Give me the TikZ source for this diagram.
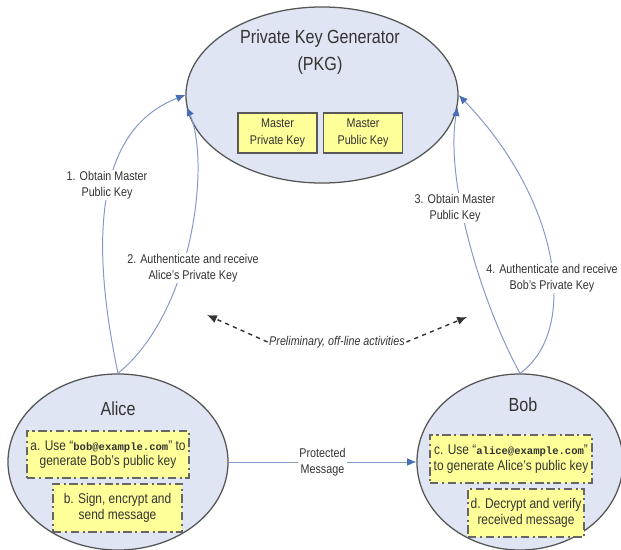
\documentclass[tikz,border=0pt]{standalone}
\usepackage{fontspec}
\setmainfont{Liberation Sans}[FakeStretch=0.85]
\setmonofont{Liberation Mono}
\usepackage{tikz}
\usetikzlibrary{shapes,arrows.meta,positioning}
\definecolor{partyfill}{HTML}{DFE5F2}
\definecolor{partyline}{HTML}{555555}
\definecolor{keyfill}{HTML}{FFFF99}
\definecolor{flowcolor}{HTML}{8199C8}
\definecolor{tipcolor}{HTML}{4A6EB5}
\definecolor{textgray}{HTML}{333333}
\newcommand{\mailid}[1]{{\fontsize{7.5}{11}\selectfont\ttfamily\bfseries #1}}

\begin{document}
\begin{tikzpicture}[x=0.025cm, y=-0.025cm,
    party/.style={ellipse, draw=partyline, line width=0.9pt, fill=partyfill, inner sep=0pt},
    title/.style={text=textgray, align=center, font=\fontsize{13.5}{19}\selectfont},
    masterkey/.style={rectangle, draw=black!65, line width=0.9pt, fill=keyfill, minimum width=1.975cm, minimum height=1cm, inner sep=0pt, align=center, text=textgray, font=\fontsize{9}{12.5}\selectfont},
    stepbox/.style={rectangle, draw=black!60, line width=1.3pt, dash pattern=on 6pt off 2.5pt on 1.5pt off 2.5pt, fill=keyfill, minimum height=1.2cm, inner sep=0pt, align=center, text=textgray, font=\fontsize{10}{11}\selectfont},
    flow/.style={-{Latex[length=6.5pt,width=5.5pt,color=tipcolor]}, flowcolor, line width=0.7pt},
    flowlabel/.style={fill=white, inner sep=1pt, align=center, text=textgray, font=\fontsize{9}{11.4}\selectfont},
    offline/.style={-{Latex[length=7pt,width=6pt]}, dashed, line width=1pt, black!80}
]
    \useasboundingbox (0,0) rectangle (621,550);

    % PKG
    \node[party, minimum width=6.8cm, minimum height=4.4cm] (pkg) at (322,95) {};
    \node[title] (pkgtitle) at (320,52) {Private Key Generator\\(PKG)};
    \node[masterkey] (mpriv) at (277.5,133) {Master\\Private Key};
    \node[masterkey] (mpub) at (363,133) {Master\\Public Key};

    % Alice
    \node[party, minimum width=5.5cm, minimum height=4.4cm] (alice) at (118,462) {};
    \node[title] (alicetitle) at (118,409) {Alice};
    \node[stepbox, minimum width=4.05cm, minimum height=1.175cm] (stepa) at (108,454.5) {a. Use “\mailid{bob@example.com}” to\\generate Bob's public key};
    \node[stepbox, minimum width=3.225cm] (stepb) at (117.5,508) {b. Sign, encrypt and\\send message};

    % Bob
    \node[party, minimum width=5.15cm, minimum height=4.4cm] (bob) at (520,462) {};
    \node[title] (bobtitle) at (523,405) {Bob};
    \node[stepbox, minimum width=4.05cm] (stepc) at (511,459) {c. Use “\mailid{alice@example.com}”\\to generate Alice's public key};
    \node[stepbox, minimum width=2.9cm] (stepd) at (526,513) {d. Decrypt and verify\\received message};

    % Alice <-> PKG
    \draw[flow] (alice.north) .. controls (90,240) and (95,130) .. (pkg.west);
    \draw[flow] (alice.north) .. controls (195,310) and (210,160) .. (pkg.185);

    % Bob <-> PKG
    \draw[flow] (bob.north) .. controls (480,300) and (445,180) .. (pkg.-5);
    \draw[flow] (bob.north) .. controls (580,330) and (560,200) .. (pkg.east);

    \node[flowlabel] (obtaina) at (107,185) {1. Obtain Master\\Public Key};
    \node[flowlabel] (autha) at (193,268) {2. Authenticate and receive\\Alice's Private Key};
    \node[flowlabel] (obtainb) at (455,208) {3. Obtain Master\\Public Key};
    \node[flowlabel] (authb) at (552,278) {4. Authenticate and receive\\Bob's Private Key};

    % Protected message
    \draw[flow] (alice.east) -- node[flowlabel, midway] (protmsg) {Protected\\Message} (bob.west);

    % Off-line activities
    \node[flowlabel, font=\fontsize{9}{11}\selectfont\itshape] (prelim) at (337,342) {Preliminary, off-line activities};
    \coordinate (offleft) at (207,315);
    \coordinate (offright) at (467,317);
    \draw[offline] (prelim.west) -- (offleft);
    \draw[offline] (prelim.east) -- (offright);
\end{tikzpicture}
\end{document}
